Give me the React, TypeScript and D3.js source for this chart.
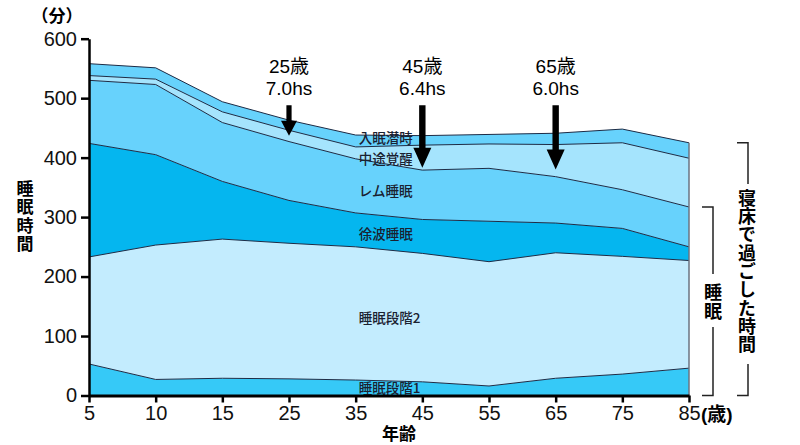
import React, { useRef, useEffect } from 'react';
import * as d3 from 'd3';

// ages on x (categorical, equally spaced)
const ages = ['5', '10', '15', '25', '35', '45', '55', '65', '75', '85'];

// minutes per stage (stacked bottom -> top)
const stage1 = [53, 27, 29, 28, 26, 23, 16, 29, 36, 46];
const stage2 = [180, 226, 234, 228, 224, 216, 209, 211, 198, 181];
const sws = [191, 152, 97, 72, 57, 57, 68, 50, 47, 23];
const rem = [106, 118, 99, 99, 91, 83, 89, 78, 65, 67];
const wake = [8, 9, 18, 19, 20, 42, 41, 54, 79, 82];
const latency = [20, 19, 17, 17, 20, 16, 16, 19, 23, 26];

const keys = ['stage1', 'stage2', 'sws', 'rem', 'wake', 'latency'];
const layerNames = ['睡眠段階1', '睡眠段階2', '徐波睡眠', 'レム睡眠', '中途覚醒', '入眠潜時'];
const layerColors = ['#36c9f7', '#c3ecfe', '#05b6ef', '#67d2fc', '#a5e4fd', '#67d2fc'];
// label anchor (value in minutes) inside each band
const labelValues = [13, 130, 272, 343, 398, 432];

const yTicks = [0, 100, 200, 300, 400, 500, 600];

// arrows: age, text, tip value
const arrowAges = ['25', '45', '65'];
const arrowHours = ['7.0hs', '6.4hs', '6.0hs'];
const arrowTips = [437, 383, 380];
const arrowTop = 488;

const W = 800;
const H = 445;
const LINE = '#1d2b45';

const App = () => {
    const ref = useRef(null);

    useEffect(() => {
        const svg = d3.select(ref.current);
        svg.selectAll('*').remove();

        const rows = ages.map((a, i) => ({
            age: a,
            stage1: stage1[i],
            stage2: stage2[i],
            sws: sws[i],
            rem: rem[i],
            wake: wake[i],
            latency: latency[i],
        }));

        const x = d3.scalePoint().domain(ages).range([89, 689]);
        const y = d3.scaleLinear().domain([0, 600]).range([395.5, 38.7]);

        const series = d3.stack().keys(keys)(rows);

        const area = d3.area()
            .x(d => x(d.data.age))
            .y0(d => y(d[0]))
            .y1(d => y(d[1]));
        const line = d3.line()
            .x(d => x(d.data.age))
            .y(d => y(d[1]));

        const g = svg.append('g');
        g.selectAll('path.band')
            .data(series)
            .join('path')
            .attr('class', 'band')
            .attr('fill', (d, i) => layerColors[i])
            .attr('d', area);
        g.selectAll('path.edge')
            .data(series)
            .join('path')
            .attr('class', 'edge')
            .attr('fill', 'none')
            .attr('stroke', LINE)
            .attr('stroke-width', 1)
            .attr('d', line);

        // right edge of the area
        const last = series[series.length - 1][ages.length - 1];
        g.append('line')
            .attr('x1', x('85')).attr('x2', x('85'))
            .attr('y1', y(last[1])).attr('y2', y(0))
            .attr('stroke', '#6b7380').attr('stroke-width', 1.5);

        const jp = '"Noto Sans CJK JP", sans-serif';

        // band labels
        g.selectAll('text.band-label')
            .data(layerNames)
            .join('text')
            .attr('class', 'band-label')
            .attr('x', x('35') + 3)
            .attr('y', (d, i) => y(labelValues[i]))
            .attr('dy', '0.36em')
            .attr('font-family', jp)
            .attr('font-size', 13.5)
            .attr('font-weight', 500)
            .attr('fill', '#1a2130')
            .text(d => d);

        // axes
        const tickFont = '"Liberation Sans", Arial, sans-serif';
        const yAxis = svg.append('g')
            .attr('transform', `translate(${x('5')},0)`)
            .call(d3.axisLeft(y).tickValues(yTicks).tickSize(8).tickSizeOuter(0).tickPadding(4));
        yAxis.select('.domain').attr('stroke', '#000').attr('stroke-width', 2.5);
        yAxis.selectAll('.tick line').attr('stroke', '#000').attr('stroke-width', 2.5);
        yAxis.selectAll('.tick text')
            .attr('font-family', tickFont).attr('font-size', 20).attr('fill', '#111');

        const xAxis = svg.append('g')
            .attr('transform', `translate(0,${y(0)})`)
            .call(d3.axisBottom(x).tickSize(7).tickSizeOuter(0).tickPadding(3));
        xAxis.select('.domain').attr('stroke', '#000').attr('stroke-width', 3);
        xAxis.selectAll('.tick line').attr('stroke', '#000').attr('stroke-width', 2.5);
        xAxis.selectAll('.tick text')
            .attr('font-family', tickFont).attr('font-size', 20).attr('fill', '#111');

        // unit labels
        svg.append('text')
            .attr('x', 57).attr('y', 22)
            .attr('text-anchor', 'middle')
            .attr('font-family', jp).attr('font-size', 17).attr('font-weight', 'bold')
            .text('（分）');
        svg.append('text')
            .attr('x', x('85') + 12).attr('y', 421)
            .attr('font-family', `"Liberation Sans", ${jp}`).attr('font-size', 19).attr('font-weight', 'bold')
            .text('(歳)');
        svg.append('text')
            .attr('x', (x('35') + x('45')) / 2 + 10).attr('y', 440)
            .attr('text-anchor', 'middle')
            .attr('font-family', jp).attr('font-size', 17).attr('font-weight', 'bold')
            .text('年齢');

        // vertical texts
        const vText = (tx, ty, size, spacing, str) => svg.append('text')
            .attr('x', tx).attr('y', ty)
            .attr('font-family', jp).attr('font-size', size).attr('font-weight', 'bold')
            .style('writing-mode', 'vertical-rl')
            .style('letter-spacing', `${spacing}px`)
            .text(str);

        vText(25, 180, 17, 1.5, '睡眠時間');

        // arrows
        const arrows = svg.append('g');
        arrowAges.forEach((a, i) => {
            const ax = x(a);
            const top = y(arrowTop);
            const tip = y(arrowTips[i]);
            const headH = i === 0 ? 15 : 20;
            const headW = i === 0 ? 8 : 9;
            const sw = i === 0 ? 2.6 : 3.2;
            arrows.append('path')
                .attr('d', `M${ax - sw},${top} L${ax + sw},${top} L${ax + sw},${tip - headH} L${ax + headW},${tip - headH} L${ax},${tip} L${ax - headW},${tip - headH} L${ax - sw},${tip - headH} Z`)
                .attr('fill', '#000');
            arrows.append('text')
                .attr('x', ax).attr('y', top - 32)
                .attr('text-anchor', 'middle')
                .attr('font-family', `"Liberation Sans", ${jp}`).attr('font-size', 19)
                .text(`${a}歳`);
            arrows.append('text')
                .attr('x', ax).attr('y', top - 10)
                .attr('text-anchor', 'middle')
                .attr('font-family', '"Liberation Sans", sans-serif').attr('font-size', 19)
                .text(arrowHours[i]);
        });

        // right brackets
        const sleepTop = y(series[3][ages.length - 1][1]);
        const bedTop = y(last[1]);
        const base = y(0);
        const drawBracket = (bx, top, gapTop, gapBottom) => svg.append('path')
            .attr('fill', 'none').attr('stroke', '#222').attr('stroke-width', 1.5)
            .attr('d', `M${bx - 11},${top} L${bx},${top} L${bx},${gapTop} M${bx},${gapBottom} L${bx},${base} L${bx - 11},${base}`);
        drawBracket(713, sleepTop, 274, 327);
        drawBracket(748, bedTop, 184, 364);

        vText(713, 283, 18, 1, '睡眠');
        vText(747, 189, 18, 0.3, '寝床で過ごした時間');
    }, []);

    return (
        <svg ref={ref} width={W} height={H}
            style={{ position: 'absolute', left: 0, top: 0, background: '#fff' }}></svg>
    );
};

export default App;
